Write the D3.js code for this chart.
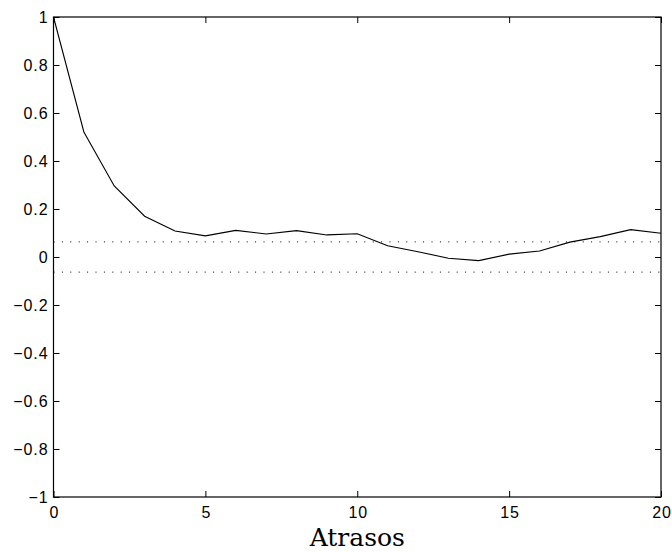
<!DOCTYPE html>
<html>
<head>
<meta charset="utf-8">
<script src="https://cdn.jsdelivr.net/npm/d3@7"></script>
<style>
  body { margin: 0; background: #fff; }
  svg { display: block; }
  .tick text { font-family: "Liberation Sans", Arial, sans-serif; font-size: 16px; fill: #000; letter-spacing: 0.9px; }
</style>
</head>
<body>
<div id="chart"></div>
<script>
// autocorrelation by lag
var lags = d3.range(0, 21);
var acf = [1, 0.521, 0.296, 0.170, 0.108, 0.088, 0.111, 0.096, 0.110, 0.092, 0.097,
           0.047, 0.022, -0.005, -0.015, 0.012, 0.025, 0.062, 0.085, 0.114, 0.099];
var bound = 0.063;
var xTicks = [0, 5, 10, 15, 20];
var yTicks = [-1, -0.8, -0.6, -0.4, -0.2, 0, 0.2, 0.4, 0.6, 0.8, 1];

var width = 672, height = 552;
var margin = {left: 53.5, right: 11, top: 17, bottom: 55};

var svg = d3.select("#chart").append("svg")
    .attr("width", width)
    .attr("height", height);

var x = d3.scaleLinear().domain([0, 20]).range([margin.left, width - margin.right]);
var y = d3.scaleLinear().domain([-1, 1]).range([height - margin.bottom, margin.top]);

var fmt = function(d) { return d3.format("")(d).replace("-", "\u2212"); };

// frame
svg.append("rect")
    .attr("x", x(0)).attr("y", y(1))
    .attr("width", x(20) - x(0)).attr("height", y(-1) - y(1))
    .attr("fill", "none").attr("stroke", "#000").attr("stroke-width", 1.2);

// axes with inward ticks
var gBottom = svg.append("g")
    .attr("transform", "translate(0," + y(-1) + ")")
    .call(d3.axisBottom(x).tickValues(xTicks).tickSize(-6).tickPadding(10).tickFormat(fmt));
var gTop = svg.append("g")
    .attr("transform", "translate(0," + y(1) + ")")
    .call(d3.axisTop(x).tickValues(xTicks).tickSize(-6).tickFormat(""));
var gLeft = svg.append("g")
    .attr("transform", "translate(" + x(0) + ",0)")
    .call(d3.axisLeft(y).tickValues(yTicks).tickSize(-6).tickPadding(5).tickFormat(fmt));
var gRight = svg.append("g")
    .attr("transform", "translate(" + x(20) + ",0)")
    .call(d3.axisRight(y).tickValues(yTicks).tickSize(-6).tickFormat(""));

[gBottom, gTop, gLeft, gRight].forEach(function(g) {
  g.select(".domain").remove();
  g.selectAll(".tick line").attr("stroke", "#000").attr("stroke-width", 1);
});
gBottom.selectAll(".tick text").attr("dx", "0.45px");

// confidence bounds
[bound, -bound].forEach(function(b) {
  svg.append("line")
      .attr("x1", x(0)).attr("x2", x(20))
      .attr("y1", y(b)).attr("y2", y(b))
      .attr("stroke", "#000").attr("stroke-width", 1)
      .attr("stroke-dasharray", "1,7.4");
});

// acf line
var line = d3.line()
    .x(function(d, i) { return x(lags[i]); })
    .y(function(d) { return y(d); });

svg.append("path")
    .datum(acf)
    .attr("d", line)
    .attr("fill", "none")
    .attr("stroke", "#000")
    .attr("stroke-width", 1.1);

// x label
svg.append("text")
    .attr("x", x(10))
    .attr("y", 546)
    .attr("text-anchor", "middle")
    .style("font-family", "'DejaVu Serif', serif")
    .style("font-size", "25px")
    .text("Atrasos");
</script>
</body>
</html>
